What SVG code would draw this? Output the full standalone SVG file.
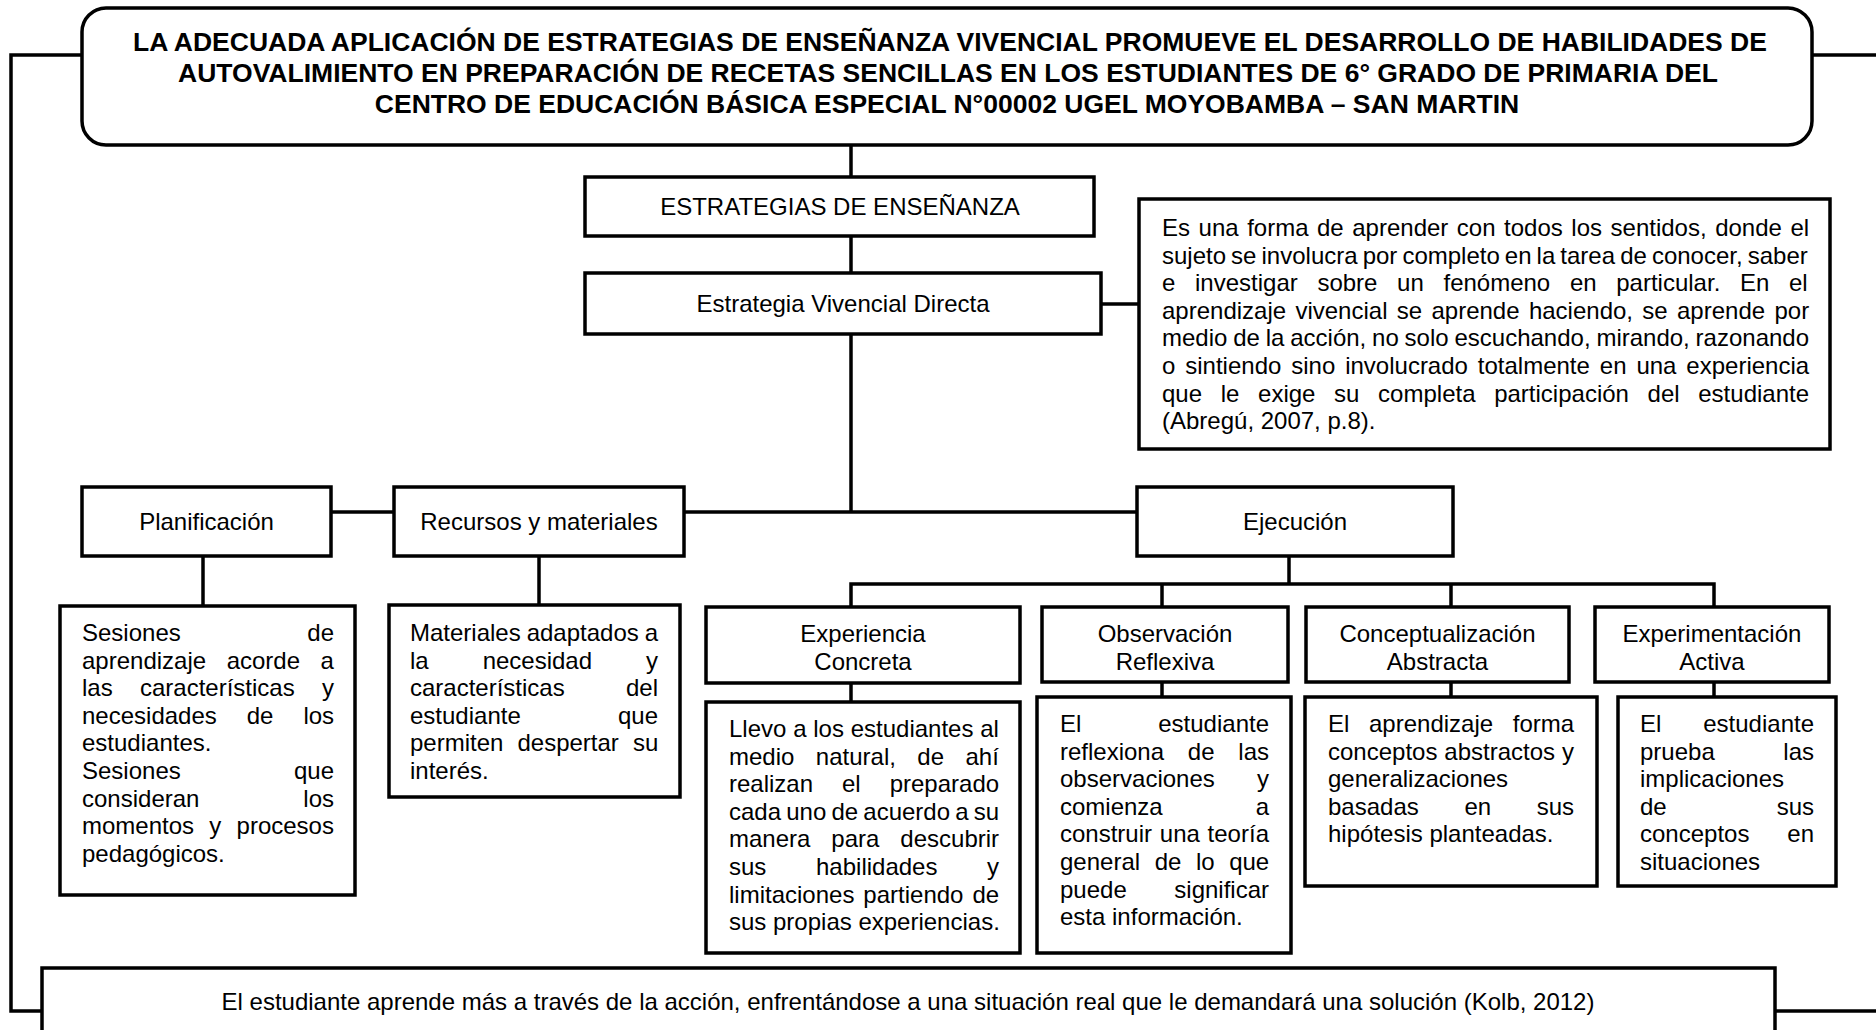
<svg xmlns="http://www.w3.org/2000/svg" width="1876" height="1030" viewBox="0 0 1876 1030">
<style>
.box{fill:#fff;stroke:#000;stroke-width:3.5}
.conn{fill:none;stroke:#000;stroke-width:3.5}
text{font-family:"Liberation Sans",Arial,sans-serif;font-size:24px;fill:#000}
.title{font-weight:bold;font-size:26.5px}
.c{text-anchor:middle}
.e{text-anchor:end}
</style>
<rect width="1876" height="1030" fill="#fff"/>
<g id="connectors">
<path class="conn" d="M82 55 H11 V1011 H42"/>
<path class="conn" d="M1812 55 H1876"/>
<path class="conn" d="M1775 1011 H1876"/>
<path class="conn" d="M851 145 V177"/>
<path class="conn" d="M851 236 V273"/>
<path class="conn" d="M1101 304 H1139"/>
<path class="conn" d="M851 334 V512"/>
<path class="conn" d="M331 512 H394"/>
<path class="conn" d="M684 512 H1137"/>
<path class="conn" d="M203 556 V606"/>
<path class="conn" d="M539 556 V605"/>
<path class="conn" d="M1289 556 V584"/>
<path class="conn" d="M851 607 V584 H1714 V607"/>
<path class="conn" d="M1162 584 V607"/>
<path class="conn" d="M1451 584 V607"/>
<path class="conn" d="M851 683 V702"/>
<path class="conn" d="M1162 682 V697"/>
<path class="conn" d="M1451 682 V697"/>
<path class="conn" d="M1714 682 V697"/>
</g>
<g id="title">
<rect class="box" x="82" y="8" width="1730" height="137" rx="24"/>
<text class="title c" x="950" y="51">LA ADECUADA APLICACIÓN DE ESTRATEGIAS DE ENSEÑANZA VIVENCIAL PROMUEVE EL DESARROLLO DE HABILIDADES DE</text>
<text class="title c" x="948" y="82">AUTOVALIMIENTO EN PREPARACIÓN DE RECETAS SENCILLAS EN LOS ESTUDIANTES DE 6° GRADO DE PRIMARIA DEL</text>
<text class="title c" x="947" y="113">CENTRO DE EDUCACIÓN BÁSICA ESPECIAL N°00002 UGEL MOYOBAMBA – SAN MARTIN</text>
</g>
<g id="estrategias">
<rect class="box" x="585" y="177" width="509" height="59"/>
<text class="c" x="840" y="215">ESTRATEGIAS DE ENSEÑANZA</text>
</g>
<g id="vivencial">
<rect class="box" x="585" y="273" width="516" height="61"/>
<text class="c" x="843" y="312">Estrategia Vivencial Directa</text>
</g>
<g id="definicion">
<rect class="box" x="1139" y="199" width="691" height="250"/>
<text x="1162" y="236" word-spacing="1.87">Es una forma de aprender con todos los sentidos, donde el</text>
<text x="1162" y="263.6" word-spacing="-1.6">sujeto se involucra por completo en la tarea de conocer, saber</text>
<text x="1162" y="291.2" word-spacing="13">e investigar sobre un fenómeno en particular. En el</text>
<text x="1162" y="318.8" word-spacing="2.67">aprendizaje vivencial se aprende haciendo, se aprende por</text>
<text x="1162" y="346.4" word-spacing="-0.84">medio de la acción, no solo escuchando, mirando, razonando</text>
<text x="1162" y="374" word-spacing="3.24">o sintiendo sino involucrado totalmente en una experiencia</text>
<text x="1162" y="401.6" word-spacing="12">que le exige su completa participación del estudiante</text>
<text x="1162" y="429.2">(Abregú, 2007, p.8).</text>
</g>
<g id="planificacion">
<rect class="box" x="82" y="487" width="249" height="69"/>
<text class="c" x="206.5" y="530">Planificación</text>
</g>
<g id="recursos">
<rect class="box" x="394" y="487" width="290" height="69"/>
<text class="c" x="539" y="530">Recursos y materiales</text>
</g>
<g id="ejecucion">
<rect class="box" x="1137" y="487" width="316" height="69"/>
<text class="c" x="1295" y="530">Ejecución</text>
</g>
<g id="planificacion-desc">
<rect class="box" x="60" y="606" width="295" height="289"/>
<text x="82" y="641">Sesiones</text><text class="e" x="334" y="641">de</text>
<text x="82" y="668.6" word-spacing="13.9">aprendizaje acorde a</text>
<text x="82" y="696.2" word-spacing="20.6">las características y</text>
<text x="82" y="723.8" word-spacing="23.3">necesidades de los</text>
<text x="82" y="751.4">estudiantes.</text>
<text x="82" y="779">Sesiones</text><text class="e" x="334" y="779">que</text>
<text x="82" y="806.6">consideran</text><text class="e" x="334" y="806.6">los</text>
<text x="82" y="834.2" word-spacing="8.6">momentos y procesos</text>
<text x="82" y="861.8">pedagógicos.</text>
</g>
<g id="recursos-desc">
<rect class="box" x="389" y="605" width="291" height="192"/>
<text x="410" y="641" word-spacing="-0.7">Materiales adaptados a</text>
<text x="410" y="668.6" word-spacing="47.3">la necesidad y</text>
<text x="410" y="696.2">características</text><text class="e" x="658" y="696.2">del</text>
<text x="410" y="723.8">estudiante</text><text class="e" x="658" y="723.8">que</text>
<text x="410" y="751.4" word-spacing="7.4">permiten despertar su</text>
<text x="410" y="779">interés.</text>
</g>
<g id="experiencia">
<rect class="box" x="706" y="607" width="314" height="76"/>
<text class="c" x="863" y="642">Experiencia</text>
<text class="c" x="863" y="669.5">Concreta</text>
</g>
<g id="observacion">
<rect class="box" x="1042" y="607" width="246" height="75"/>
<text class="c" x="1165" y="642">Observación</text>
<text class="c" x="1165" y="669.5">Reflexiva</text>
</g>
<g id="conceptualizacion">
<rect class="box" x="1306" y="607" width="263" height="75"/>
<text class="c" x="1437.5" y="642">Conceptualización</text>
<text class="c" x="1437.5" y="669.5">Abstracta</text>
</g>
<g id="experimentacion">
<rect class="box" x="1595" y="607" width="234" height="75"/>
<text class="c" x="1712" y="642">Experimentación</text>
<text class="c" x="1712" y="669.5">Activa</text>
</g>
<g id="experiencia-desc">
<rect class="box" x="706" y="702" width="314" height="251"/>
<text x="729" y="737" word-spacing="0.1">Llevo a los estudiantes al</text>
<text x="729" y="764.6" word-spacing="14.8">medio natural, de ahí</text>
<text x="729" y="792.2" word-spacing="22.3">realizan el preparado</text>
<text x="729" y="819.8" word-spacing="-1.5">cada uno de acuerdo a su</text>
<text x="729" y="847.4" word-spacing="14.3">manera para descubrir</text>
<text x="729" y="875" word-spacing="43">sus habilidades y</text>
<text x="729" y="902.6" word-spacing="2.3">limitaciones partiendo de</text>
<text x="729" y="930.2">sus propias experiencias.</text>
</g>
<g id="observacion-desc">
<rect class="box" x="1037" y="697" width="254" height="256"/>
<text x="1060" y="732">El</text><text class="e" x="1269" y="732">estudiante</text>
<text x="1060" y="759.6" word-spacing="17.1">reflexiona de las</text>
<text x="1060" y="787.2">observaciones</text><text class="e" x="1269" y="787.2">y</text>
<text x="1060" y="814.8">comienza</text><text class="e" x="1269" y="814.8">a</text>
<text x="1060" y="842.4" word-spacing="1.1">construir una teoría</text>
<text x="1060" y="870" word-spacing="7.9">general de lo que</text>
<text x="1060" y="897.6">puede</text><text class="e" x="1269" y="897.6">significar</text>
<text x="1060" y="925.2">esta información.</text>
</g>
<g id="conceptualizacion-desc">
<rect class="box" x="1305" y="697" width="292" height="189"/>
<text x="1328" y="732" word-spacing="13">El aprendizaje forma</text>
<text x="1328" y="759.6" word-spacing="0.3">conceptos abstractos y</text>
<text x="1328" y="787.2">generalizaciones</text>
<text x="1328" y="814.8" word-spacing="39">basadas en sus</text>
<text x="1328" y="842.4">hipótesis planteadas.</text>
</g>
<g id="experimentacion-desc">
<rect class="box" x="1618" y="697" width="218" height="189"/>
<text x="1640" y="732">El</text><text class="e" x="1814" y="732">estudiante</text>
<text x="1640" y="759.6">prueba</text><text class="e" x="1814" y="759.6">las</text>
<text x="1640" y="787.2">implicaciones</text>
<text x="1640" y="814.8">de</text><text class="e" x="1814" y="814.8">sus</text>
<text x="1640" y="842.4">conceptos</text><text class="e" x="1814" y="842.4">en</text>
<text x="1640" y="870">situaciones</text>
</g>
<g id="conclusion">
<rect class="box" x="42" y="968" width="1733" height="100"/>
<text class="c" x="908" y="1010">El estudiante aprende más a través de la acción, enfrentándose a una situación real que le demandará una solución (Kolb, 2012)</text>
</g>
</svg>
